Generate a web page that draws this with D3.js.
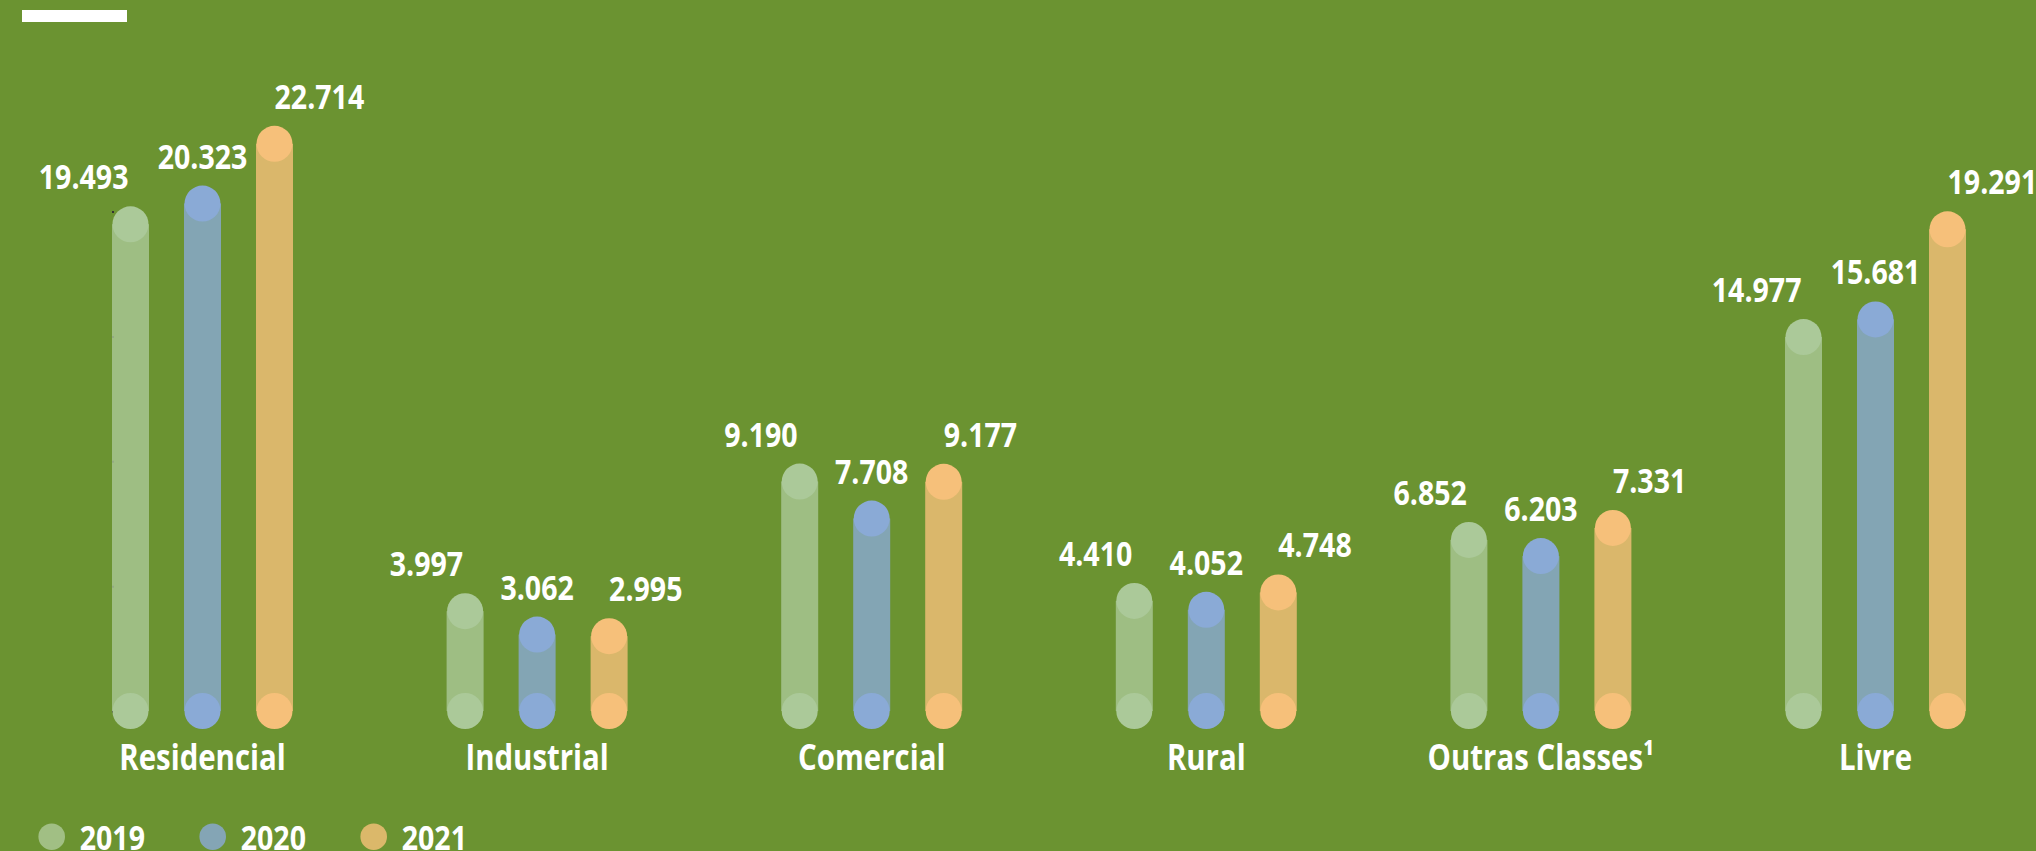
<!DOCTYPE html>
<html>
<head>
<meta charset="utf-8">
<script src="https://cdn.jsdelivr.net/npm/d3@7"></script>
<style>
  html, body { margin: 0; padding: 0; background: #6b9331; }
  svg { display: block; }
  text { font-family: "Open Sans", "Noto Sans", sans-serif; font-weight: 700; fill: #ffffff; }
</style>
</head>
<body>
<svg id="chart" width="2036" height="851"></svg>
<script>
// Consumption by class, three years
const categories = ["Residencial", "Industrial", "Comercial", "Rural", "Outras Classes\u00B9", "Livre"];
const years = ["2019", "2020", "2021"];
const values2019 = [19493, 3997, 9190, 4410, 6852, 14977];
const values2020 = [20323, 3062, 7708, 4052, 6203, 15681];
const values2021 = [22714, 2995, 9177, 4748, 7331, 19291];
const yTicks = [0, 5000, 10000, 15000, 20000];

const series = [values2019, values2020, values2021];
const dotColors = ["#abc999", "#8aaad6", "#f6c07a"];
const barColors = ["#a1bf84", "#84a5b5", "#dbb86a"];
const labelAnchors = ["end", "middle", "start"];

const W = 2036, H = 851;
const svg = d3.select("#chart");
svg.append("rect").attr("width", W).attr("height", H).attr("fill", "#6b9331");

// short white rule in the top-left corner
svg.append("rect").attr("x", 22).attr("y", 10).attr("width", 105).attr("height", 12).attr("fill", "#ffffff");

const x = d3.scalePoint().domain(categories).range([202.5, 1875.5]);
const xi = d3.scalePoint().domain(years).range([-72, 72]);
const y = d3.scaleLinear().domain([0, 25000]).range([711, 711 - 624.25]);

const barW = 37, r = 18;
const fmt = v => d3.format(",")(v).replace(/,/g, ".");
const sx = 0.84; // horizontal squeeze for a condensed look

// faint value axis behind the first column
const axis = svg.append("g")
  .attr("transform", `translate(${x(categories[0]) + xi(years[0]) - barW / 2 + 2},0)`)
  .call(d3.axisLeft(y).tickValues(yTicks).tickSize(2).tickFormat(""));
axis.select(".domain").remove();
axis.selectAll("line").attr("stroke", "#333333").attr("stroke-width", 2);

const groups = svg.selectAll("g.cat").data(categories).join("g")
  .attr("class", "cat")
  .attr("transform", d => `translate(${x(d)},0)`);

years.forEach((yr, k) => {
  const cx = xi(yr);
  groups.append("rect")
    .attr("x", cx - barW / 2)
    .attr("width", barW)
    .attr("y", (d, i) => y(series[k][i]))
    .attr("height", (d, i) => y(0) - y(series[k][i]))
    .attr("fill", dotColors[k])
    .attr("fill-opacity", 0.8);
  groups.append("circle")
    .attr("cx", cx).attr("cy", y(0)).attr("r", r)
    .attr("fill", dotColors[k]);
  groups.append("circle")
    .attr("cx", cx).attr("cy", (d, i) => y(series[k][i])).attr("r", r)
    .attr("fill", dotColors[k]);
  groups.append("text")
    .attr("transform", (d, i) => {
      const off = k === 0 ? -2 : 0;
      return `translate(${cx + off},${y(series[k][i]) - 35}) scale(${sx},1)`;
    })
    .attr("text-anchor", labelAnchors[k])
    .attr("font-size", 34)
    .text((d, i) => fmt(series[k][i]));
});

groups.append("text")
  .attr("transform", `translate(0,770) scale(${sx},1)`)
  .attr("text-anchor", "middle")
  .attr("font-size", 35)
  .text(d => d);

// legend
const legend = svg.append("g").selectAll("g").data(years).join("g")
  .attr("transform", (d, i) => `translate(${51.7 + i * 161},836.7)`);
legend.append("circle").attr("r", 13.3).attr("fill", (d, i) => barColors[i]);
legend.append("text")
  .attr("transform", `translate(28,13) scale(${sx},1)`)
  .attr("font-size", 34)
  .text(d => d);
</script>
</body>
</html>
